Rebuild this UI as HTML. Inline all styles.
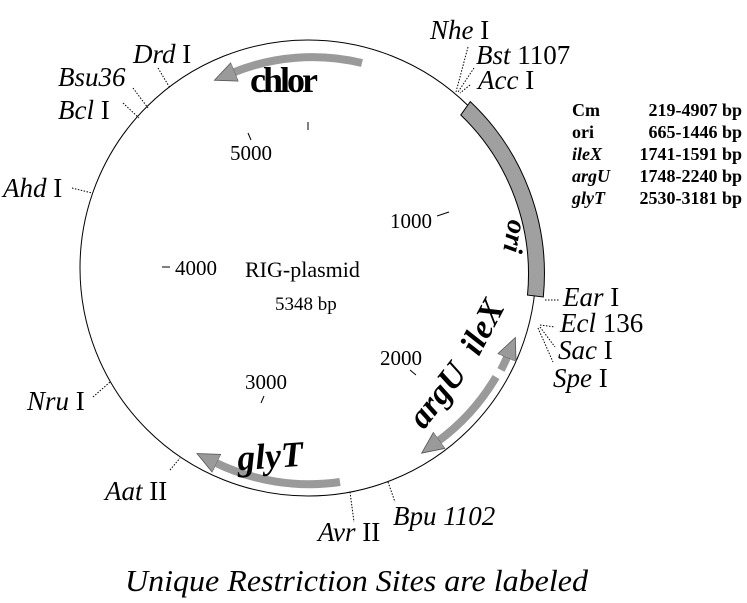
<!DOCTYPE html>
<html><head><meta charset="utf-8"><style>
html,body{margin:0;padding:0;background:#fff;}
svg{display:block;}
text{font-family:"Liberation Serif",serif;fill:#000;}
.it{font-style:italic;}
.b{font-weight:bold;}
</style></head><body>
<svg width="747" height="603" viewBox="0 0 747 603" xmlns="http://www.w3.org/2000/svg">
<defs>
<marker id="ah" markerWidth="24" markerHeight="24" refX="3" refY="11" orient="auto" markerUnits="userSpaceOnUse">
<path d="M0,1 L22,11 L0,21 Z" fill="#9a9a9a" stroke="#555" stroke-width="0.8"/>
</marker>
</defs>
<circle cx="308" cy="268" r="228" fill="none" stroke="#000" stroke-width="1"/>
<path d="M470.3,101.6 A237,237 0 0 1 543.3,297.0 L527.5,295.1 A221,221 0 0 0 460.8,115.0 Z" fill="#a0a0a0" stroke="#000" stroke-width="1"/>
<path d="M362,63 A212,212 0 0 0 232,73" fill="none" stroke="#9a9a9a" stroke-width="8" marker-end="url(#ah)"/>
<path d="M340,482 A216,216 0 0 1 214,462" fill="none" stroke="#9a9a9a" stroke-width="8" marker-end="url(#ah)"/>
<path d="M501,370 A218,218 0 0 0 508,355" fill="none" stroke="#9a9a9a" stroke-width="8" marker-end="url(#ah)"/>
<path d="M496,377 A216,216 0 0 1 437,442" fill="none" stroke="#9a9a9a" stroke-width="8" marker-end="url(#ah)"/>

<g stroke="#000" stroke-width="1">
<line x1="308" y1="122" x2="308" y2="130"/>
<line x1="248" y1="133" x2="251" y2="140"/>
<line x1="437" y1="216" x2="449" y2="212"/>
<line x1="162" y1="267" x2="170" y2="267"/>
<line x1="410" y1="370" x2="416" y2="375"/>
<line x1="261" y1="403" x2="264" y2="396"/>
</g>
<g font-size="21">
<text x="230" y="160">5000</text>
<text x="390" y="228">1000</text>
<text x="175" y="275">4000</text>
<text x="380" y="365">2000</text>
<text x="245" y="389">3000</text>
</g>
<text x="245" y="277" font-size="22">RIG-plasmid</text>
<text x="275" y="310" font-size="19">5348 bp</text>

<g stroke="#000" stroke-width="1" stroke-dasharray="1.5,1.5" fill="none">
<line x1="158" y1="68" x2="170" y2="88"/>
<line x1="133" y1="88" x2="148" y2="108"/>
<line x1="123" y1="103" x2="139" y2="118"/>
<line x1="72" y1="188" x2="92" y2="193"/>
<line x1="93" y1="397" x2="110" y2="382"/>
<line x1="170" y1="470" x2="180" y2="458"/>
<line x1="350" y1="492" x2="354" y2="522"/>
<line x1="388" y1="482" x2="395" y2="502"/>
<line x1="468" y1="47" x2="456" y2="92"/>
<line x1="474" y1="68" x2="458" y2="92"/>
<line x1="470" y1="85" x2="460" y2="93"/>
<line x1="545" y1="300" x2="560" y2="300"/>
<line x1="540" y1="325" x2="555" y2="327"/>
<line x1="540" y1="327" x2="555" y2="347"/>
<line x1="538" y1="328" x2="553" y2="362"/>
</g>

<g font-size="27">
<text x="133" y="63"><tspan class="it">Drd</tspan> I</text>
<text x="58" y="86" class="it">Bsu36</text>
<text x="58" y="119"><tspan class="it">Bcl</tspan> I</text>
<text x="3" y="197"><tspan class="it">Ahd</tspan> I</text>
<text x="27" y="410"><tspan class="it">Nru</tspan> I</text>
<text x="105" y="500"><tspan class="it">Aat</tspan> II</text>
<text x="318" y="541"><tspan class="it">Avr</tspan> II</text>
<text x="393" y="525" class="it">Bpu 1102</text>
<text x="430" y="39"><tspan class="it">Nhe</tspan> I</text>
<text x="476" y="64"><tspan class="it">Bst</tspan> 1107</text>
<text x="478" y="89"><tspan class="it">Acc</tspan> I</text>
<text x="563" y="306"><tspan class="it">Ear</tspan> I</text>
<text x="560" y="332"><tspan class="it">Ecl</tspan> 136</text>
<text x="558" y="359"><tspan class="it">Sac</tspan> I</text>
<text x="553" y="387"><tspan class="it">Spe</tspan> I</text>
</g>

<text x="250" y="92" font-size="36" class="b" letter-spacing="-3">chlor</text>
<text x="237" y="468" font-size="36" class="b it" transform="rotate(-4 270 455)">glyT</text>
<text transform="translate(506,235) rotate(100)" font-size="28" class="b it" text-anchor="middle">ori</text>
<text transform="translate(492,332) rotate(-62)" font-size="34" class="b it" text-anchor="middle">ileX</text>
<text transform="translate(446,402) rotate(-52)" font-size="34" class="b it" text-anchor="middle">argU</text>

<g font-size="18" class="b">
<text x="572" y="116">Cm</text><text x="742" y="116" text-anchor="end">219-4907 bp</text>
<text x="572" y="138">ori</text><text x="742" y="138" text-anchor="end">665-1446 bp</text>
<text x="572" y="160" class="it">ileX</text><text x="742" y="160" text-anchor="end">1741-1591 bp</text>
<text x="572" y="182" class="it">argU</text><text x="742" y="182" text-anchor="end">1748-2240 bp</text>
<text x="572" y="204" class="it">glyT</text><text x="742" y="204" text-anchor="end">2530-3181 bp</text>
</g>

<text x="125" y="591" font-size="31" class="it" textLength="463" lengthAdjust="spacingAndGlyphs">Unique Restriction Sites are labeled</text>
</svg>
</body></html>
